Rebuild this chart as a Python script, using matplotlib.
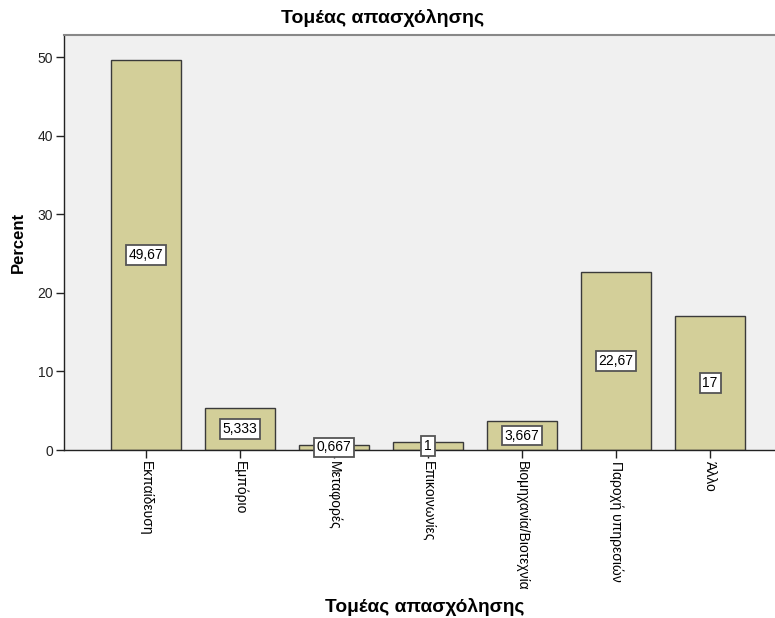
import matplotlib
matplotlib.use('Agg')
import matplotlib.pyplot as plt

categories = ['Εκπαίδευση', 'Εμπόριο', 'Μεταφορές', 'Επικοινωνίες',
              'Βιομηχανία/Βιοτεχνία', 'Παροχή υπηρεσιών', 'Άλλο']
percent = [49.67, 5.333, 0.667, 1, 3.667, 22.67, 17]
value_labels = ['49,67', '5,333', '0,667', '1', '3,667', '22,67', '17']
yticks = [0, 10, 20, 30, 40, 50]

plt.rcParams['font.family'] = ['Liberation Sans', 'DejaVu Sans']

fig = plt.figure(figsize=(7.75, 6.18), dpi=100)
ax = fig.add_axes([64/775, 1 - 450/618, 1 - 64/775, (450 - 35)/618])
ax.set_facecolor('#f0f0f0')

x = list(range(len(categories)))
ax.bar(x, percent, width=0.75, color='#d3cf99', edgecolor='#3a3a3a', linewidth=1.0, zorder=2)

for xi, v, lab in zip(x, percent, value_labels):
    ax.text(xi, v / 2, lab, ha='center', va='center', fontsize=10, zorder=3,
            bbox=dict(boxstyle='square,pad=0.2', facecolor='white', edgecolor='#555555', linewidth=1.3))

ax.set_xlim(-0.87, 6.69)
ax.set_ylim(0, 52.8)
ax.set_yticks(yticks)
ax.set_yticklabels([str(t) for t in yticks], fontsize=10, color='#222222')
ax.set_xticks(x)
ax.set_xticklabels(categories, rotation=270, fontsize=10, va='top', ha='center')
ax.tick_params(axis='both', direction='out', length=6, width=1, color='#222222', pad=2)

for s in ['left', 'bottom']:
    ax.spines[s].set_color('#222222')
    ax.spines[s].set_linewidth(1)
ax.spines['top'].set_color('#888888')
ax.spines['top'].set_linewidth(1.5)
ax.spines['right'].set_visible(False)

ax.set_ylabel('Percent', fontsize=12, fontweight='bold', labelpad=8)
fig.text(425/775, 1 - 607/618, 'Τομέας απασχόλησης', ha='center', va='center', fontsize=13.8, fontweight='bold')
fig.text(383/775, 1 - 18/618, 'Τομέας απασχόλησης', ha='center', va='center', fontsize=14, fontweight='bold')

fig.savefig('out.png', dpi=100)
